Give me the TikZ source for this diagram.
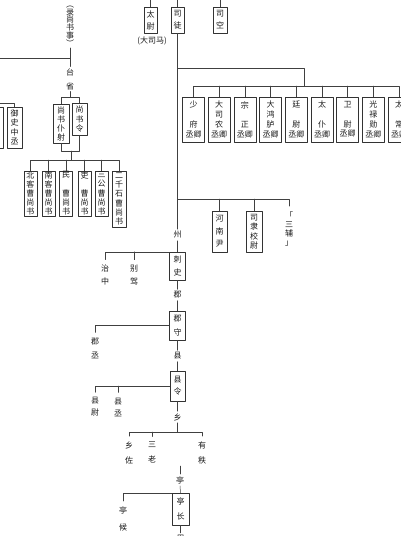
\documentclass[tikz,border=0pt]{standalone}
\usepackage{fontspec}
\setmainfont{Noto Sans CJK SC}
\usetikzlibrary{positioning}

\begin{document}
\begin{tikzpicture}[x=1pt, y=-1pt, line join=round, line cap=round,
	box/.style={draw=black!80, line width=0.5pt, inner sep=0pt, align=center, text=black!90},
	lbl/.style={inner sep=2pt, align=center, text=black!90},
	leaf/.style={lbl, inner ysep=5pt},
	pitch/.style={font=\fontsize{8}{#1}\selectfont},
	wire/.style={black!75, line width=0.5pt}]
	\useasboundingbox (0,0) rectangle (400,536);
	\coordinate (top) at (0,0);
	\coordinate (busL) at (0,58);  \coordinate (busA) at (177.5,68);
	\coordinate (busB) at (0,86);  \coordinate (busT) at (0,97);
	\coordinate (busE) at (0,103); \coordinate (busU) at (0,151);
	\coordinate (busV) at (0,160); \coordinate (busC) at (0,199);
	\coordinate (busD) at (0,432); \coordinate (qjoin) at (304,86);
	\coordinate (tsj) at (71,151); \coordinate (tingtop) at (180,466);
	
	% san gong
	\node[box, pitch=12, minimum width=13pt, minimum height=26pt] (taiwei) at (150.5,20) {太\\尉};
	\node[lbl, pitch=9] (dasima) at (152,41) {(大司马)};
	\node[box, pitch=12, minimum width=13pt, minimum height=26pt] (situ) at (177.5,20) {司\\徒};
	\node[box, pitch=12, minimum width=14pt, minimum height=26pt] (sikong) at (220,20) {司\\空};
	
	% shangshu tai
	\node[lbl, pitch=7.8, inner sep=1.5pt] (lu) at (70,26) {︵\\录\\尚\\书\\事\\︶};
	\node[lbl, pitch=14, inner sep=1.5pt] (taisheng) at (70,79) {台\\省};
	\node[box, pitch=9, minimum width=16pt, minimum height=39pt] (puye) at (61,123.5) {尚\\书\\仆\\射};
	\node[box, pitch=9.5, minimum width=15pt, minimum height=32pt] (shuling) at (79.5,119) {尚\\书\\令};
	\node[box, pitch=9.5, minimum width=15pt, minimum height=41pt] (yushi) at (14.5,127.5) {御\\史\\中\\丞};
	\node[box, minimum width=14pt, minimum height=41pt] (cutbox) at (-4,127.5) {};
	
	\node[box, pitch=9.2, minimum width=13pt, minimum height=45pt] (cao1) at (30.5,193.5) {北\\客\\曹\\尚\\书};
	\node[box, pitch=9.2, minimum width=13pt, minimum height=45pt] (cao2) at (48.5,193.5) {南\\客\\曹\\尚\\书};
	\node[box, pitch=9.2, minimum width=13pt, minimum height=45pt] (cao3) at (66,193.5) {民\\[9.2pt]曹\\尚\\书};
	\node[box, pitch=9.2, minimum width=13pt, minimum height=45pt] (cao4) at (84.5,193.5) {吏\\[9.2pt]曹\\尚\\书};
	\node[box, pitch=9.2, minimum width=13pt, minimum height=45pt] (cao5) at (101.5,193.5) {三\\公\\曹\\尚\\书};
	\node[box, pitch=9.2, minimum width=14pt, minimum height=56pt] (cao6) at (119,199) {二\\千\\石\\曹\\尚\\书};
	
	% jiu qing
	\node[box, pitch=9.7, minimum width=22pt, minimum height=45pt] (qing1) at (193.5,119.5) {少\\[9.7pt]府\\丞卿};
	\node[box, pitch=9.7, minimum width=22pt, minimum height=45pt] (qing2) at (219.2,119.5) {大\\司\\农\\丞卿};
	\node[box, pitch=9.7, minimum width=22pt, minimum height=45pt] (qing3) at (244.9,119.5) {宗\\[9.7pt]正\\丞卿};
	\node[box, pitch=9.7, minimum width=22pt, minimum height=45pt] (qing4) at (270.6,119.5) {大\\鸿\\胪\\丞卿};
	\node[box, pitch=9.7, minimum width=22pt, minimum height=45pt] (qing5) at (296.3,119.5) {廷\\[9.7pt]尉\\丞卿};
	\node[box, pitch=9.7, minimum width=22pt, minimum height=45pt] (qing6) at (322,119.5) {太\\[9.7pt]仆\\丞卿};
	\node[box, pitch=9.7, minimum width=22pt, minimum height=45pt] (qing7) at (347.7,119.5) {卫\\[9.7pt]尉\\丞卿};
	\node[box, pitch=9.7, minimum width=22pt, minimum height=45pt] (qing8) at (373.4,119.5) {光\\禄\\勋\\丞卿};
	\node[box, pitch=9.7, minimum width=22pt, minimum height=45pt] (qing9) at (399.1,119.5) {太\\[9.7pt]常\\丞卿};
	
	% jingji
	\node[box, pitch=12.5, minimum width=15pt, minimum height=41pt] (henan) at (219.5,231.5) {河\\南\\尹};
	\node[box, pitch=9.5, minimum width=16pt, minimum height=41pt] (sili) at (254,231.5) {司\\隶\\校\\尉};
	\node[lbl, pitch=9.3, inner ysep=5pt] (sanfu) at (289,229) {「\\三\\辅\\」};
	
	% difang
	\node[lbl, pitch=9] (zhou) at (177.5,235) {州};
	\node[box, pitch=13, minimum width=16pt, minimum height=28pt] (cishi) at (177.5,266) {刺\\史};
	\node[leaf, pitch=13] (zhizhong) at (105,275) {治\\中};
	\node[leaf, pitch=13] (biejia) at (134,275) {别\\驾};
	\node[lbl, pitch=9] (jun) at (177.5,295) {郡};
	\node[box, pitch=14, minimum width=16pt, minimum height=29pt] (junshou) at (177.5,325.5) {郡\\守};
	\node[leaf, pitch=14] (juncheng) at (95,348) {郡\\丞};
	\node[lbl, pitch=9] (xian) at (177.5,356) {县};
	\node[box, pitch=12, minimum width=15pt, minimum height=30pt] (xianling) at (177.5,386) {县\\令};
	\node[leaf, pitch=12] (xianwei) at (95,407) {县\\尉};
	\node[leaf, pitch=12] (xiancheng) at (118,407) {县\\丞};
	\node[lbl, pitch=9] (xiang) at (177.5,417) {乡};
	\node[leaf, pitch=15] (xiangzuo) at (129,452.5) {乡\\佐};
	\node[leaf, pitch=15] (sanlao) at (152,452.5) {三\\老};
	\node[leaf, pitch=15] (youzhi) at (202,452.5) {有\\秩};
	\node[lbl, pitch=9] (ting) at (180,480) {亭};
	\node[box, pitch=15, minimum width=17pt, minimum height=32pt] (tingzhang) at (180.5,509) {亭\\长};
	\node[leaf, pitch=17] (tinghou) at (123,518.5) {亭\\候};
	\node[lbl, pitch=9] (li) at (180.5,538.5) {里};
	
	% lianxian
	\draw[wire] (taiwei.north) -- (taiwei.north |- top);
	\draw[wire] (situ.north) -- (situ.north |- top);
	\draw[wire] (sikong.north) -- (sikong.north |- top);
	\draw[wire] (lu.south) -- (taisheng.north);
	\draw[wire] (lu.south |- busL) -- (busL);
	\draw[wire] (taisheng.south) -- (taisheng.south |- busT);
	\draw[wire] (puye.north) |- (shuling.north |- busT) -- (shuling.north);
	\draw[wire] (puye.south) |- (shuling.south |- busU) -- (shuling.south);
	\draw[wire] (tsj) -- (tsj |- busV);
	\draw[wire] (cao1.north) |- (cao6.north |- busV) -- (cao6.north);
	\foreach \i in {2,...,5}
		\draw[wire] (cao\i.north) -- (cao\i.north |- busV);
	\draw[wire] (yushi.north) |- (busE);
	
	\draw[wire] (situ.south) -- (zhou.north);
	\draw[wire] (busA) -| (qjoin);
	\draw[wire] (qing1.north) |- (qing9.north |- busB) -- (qing9.north);
	\foreach \i in {2,...,8}
		\draw[wire] (qing\i.north) -- (qing\i.north |- busB);
	\draw[wire] (situ.south |- busC) -| (sanfu.north);
	\draw[wire] (henan.north) -- (henan.north |- busC);
	\draw[wire] (sili.north) -- (sili.north |- busC);
	
	\draw[wire] (zhou.south) -- (cishi.north);
	\draw[wire] (cishi.north west) -| (zhizhong.north);
	\draw[wire] (biejia.north) -- (biejia.north |- cishi.north west);
	\draw[wire] (cishi.south) -- (jun.north);
	\draw[wire] (jun.south) -- (junshou.north);
	\draw[wire] (junshou.west) -| (juncheng.north);
	\draw[wire] (junshou.south) -- (xian.north);
	\draw[wire] (xian.south) -- (xianling.north);
	\draw[wire] (xianling.west) -| (xianwei.north);
	\draw[wire] (xiancheng.north) -- (xiancheng.north |- xianling.west);
	\draw[wire] (xianling.south) -- (xiang.north);
	\draw[wire] (xiang.south) -- (xiang.south |- busD);
	\draw[wire] (xiangzuo.north) |- (youzhi.north |- busD) -- (youzhi.north);
	\draw[wire] (sanlao.north) -- (sanlao.north |- busD);
	\draw[wire] (tingtop) -- (ting.north);
	\draw[wire] (ting.south) -- (tingzhang.north);
	\draw[wire] (tingzhang.north west) -| (tinghou.north);
	\draw[wire] (tingzhang.south) -- (li.north);
\end{tikzpicture}
\end{document}
